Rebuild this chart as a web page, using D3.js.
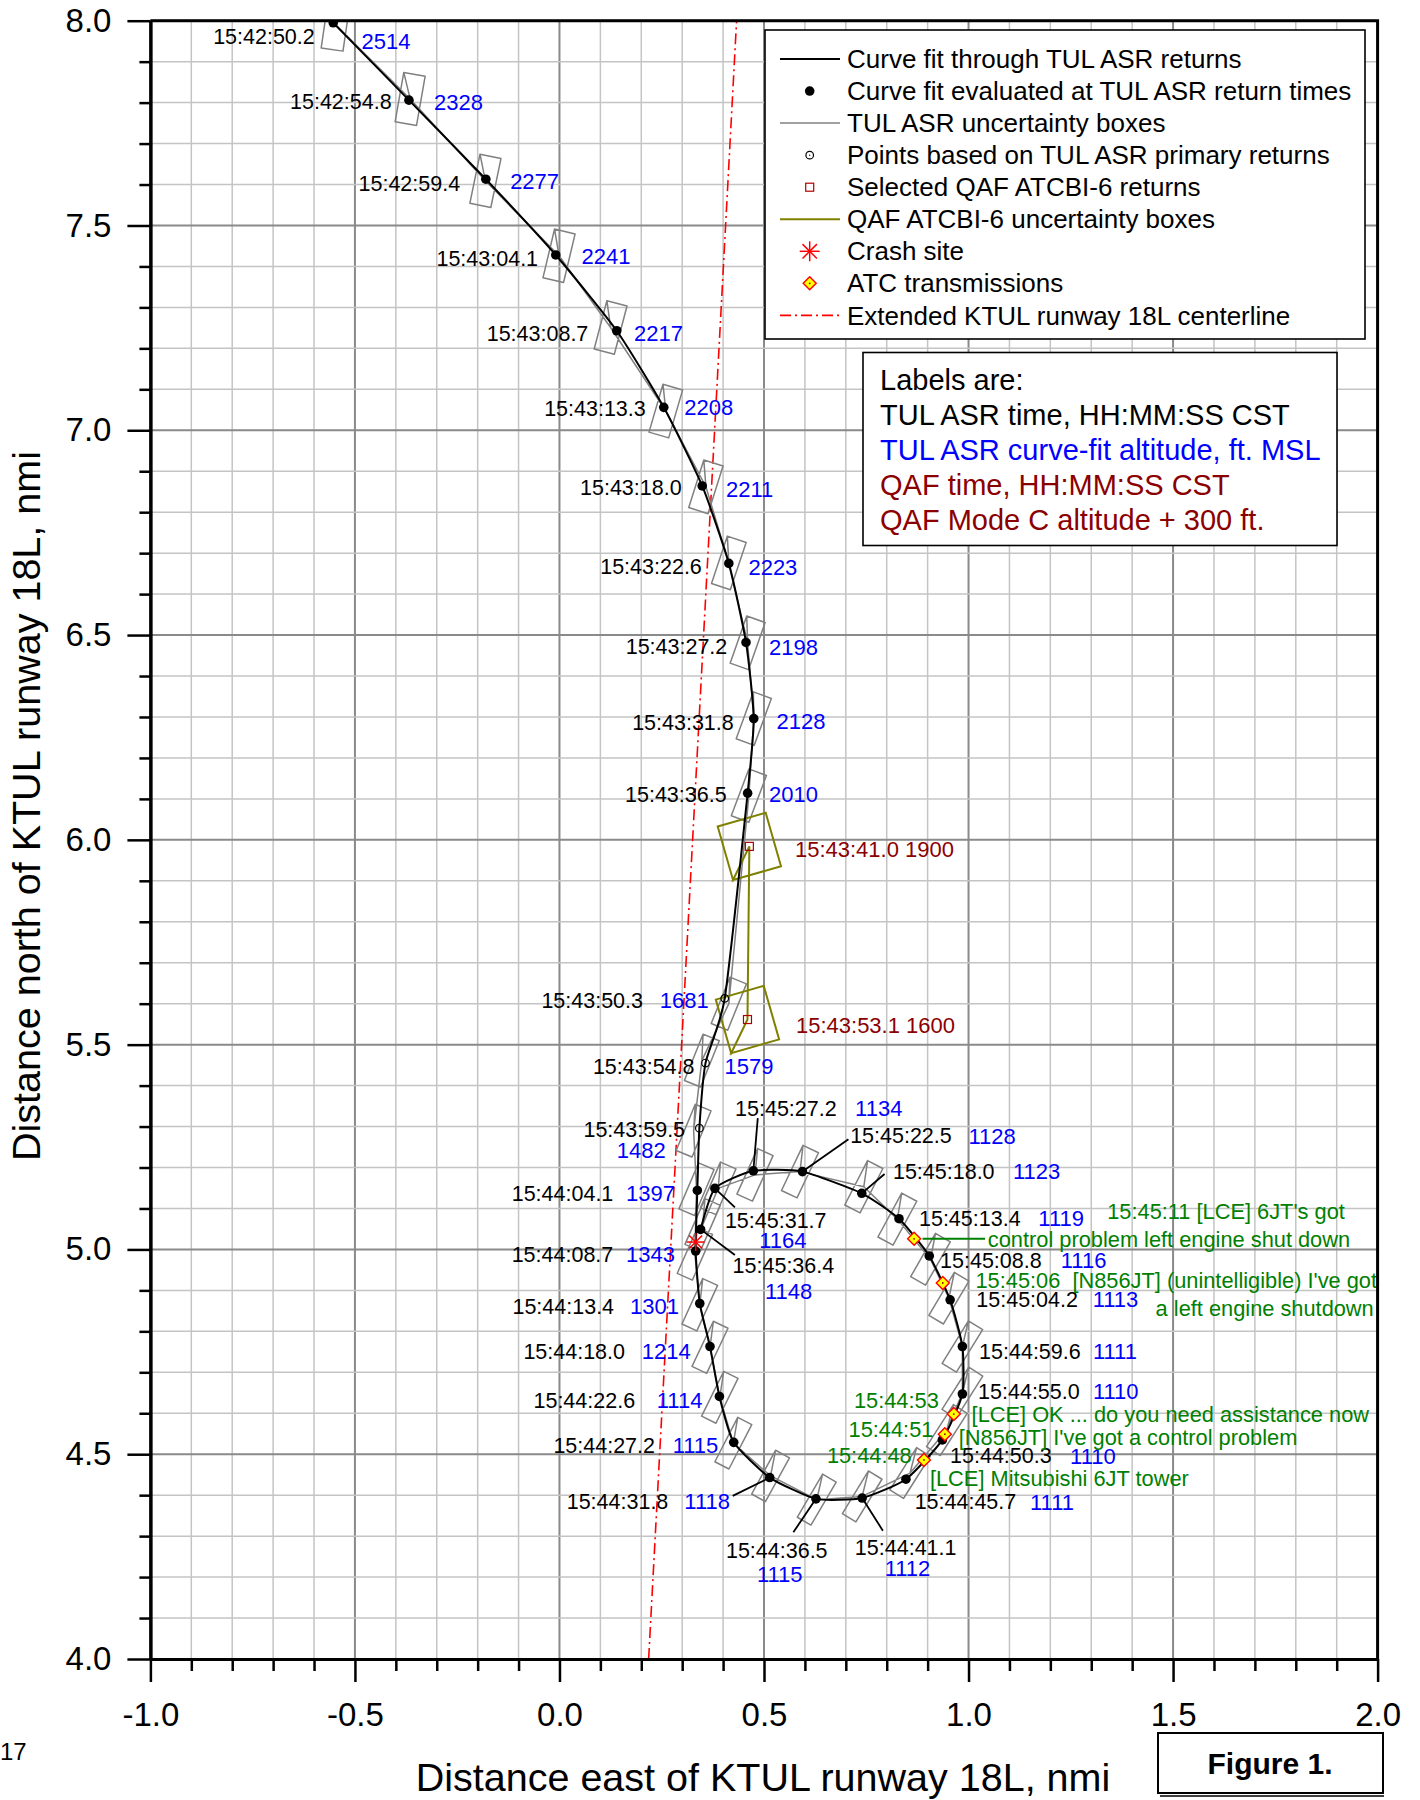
<!DOCTYPE html>
<html>
<head>
<meta charset="utf-8">
<script src="https://cdn.jsdelivr.net/npm/d3@7"></script>
<style>
  html, body { margin: 0; padding: 0; background: #fff; }
  svg { display: block; font-family: "Liberation Sans", Arial, Helvetica, sans-serif; }
  .pre { white-space: pre; }
</style>
</head>
<body>
<svg id="chart" width="1420" height="1800"></svg>
<script>
// ---------------- data ----------------
// TUL ASR curve fit, evaluated at ASR return times
const asrTime = ["15:42:50.2","15:42:54.8","15:42:59.4","15:43:04.1","15:43:08.7","15:43:13.3","15:43:18.0",
  "15:43:22.6","15:43:27.2","15:43:31.8","15:43:36.5","15:43:50.3","15:43:54.8","15:43:59.5",
  "15:44:04.1","15:44:08.7","15:44:13.4","15:44:18.0","15:44:22.6","15:44:27.2","15:44:31.8",
  "15:44:36.5","15:44:41.1","15:44:45.7","15:44:50.3","15:44:55.0","15:44:59.6","15:45:04.2",
  "15:45:08.8","15:45:13.4","15:45:18.0","15:45:22.5","15:45:27.2","15:45:31.7","15:45:36.4"];
const asrEast = [-0.553,-0.368,-0.180,-0.009,0.140,0.255,0.349,
  0.414,0.456,0.475,0.460,0.404,0.357,0.342,
  0.337,0.333,0.343,0.368,0.391,0.426,0.514,
  0.627,0.740,0.847,0.936,0.985,0.985,0.955,
  0.904,0.830,0.739,0.594,0.474,0.380,0.345];
const asrNorth = [7.995,7.806,7.613,7.428,7.243,7.056,6.864,
  6.675,6.482,6.296,6.114,5.613,5.455,5.296,
  5.144,4.996,4.868,4.763,4.641,4.529,4.443,
  4.391,4.393,4.439,4.535,4.647,4.763,4.877,
  4.984,5.075,5.137,5.190,5.192,5.149,5.049];
const asrAlt = [2514,2328,2277,2241,2217,2208,2211,
  2223,2198,2128,2010,1681,1579,1482,
  1397,1343,1301,1214,1114,1115,1118,
  1115,1112,1111,1110,1110,1111,1113,
  1116,1119,1123,1128,1134,1164,1148];
// points 11..13 come from primary-only returns
const asrPrimary = asrTime.map((t, i) => i >= 11 && i <= 13);

// raw TUL ASR return positions (centres of the uncertainty boxes)
const retEast = [-0.547,-0.365,-0.181,-0.001,0.125,0.260,0.358,
  0.414,0.460,0.475,0.463,0.414,0.348,0.328,
  0.335,0.331,0.343,0.368,0.392,0.425,0.516,
  0.629,0.740,0.857,0.947,0.985,0.985,0.952,
  0.907,0.826,0.744,0.588,0.478,0.388,0.350];
const retNorth = [7.990,7.809,7.609,7.426,7.251,7.047,6.862,
  6.676,6.481,6.296,6.108,5.600,5.461,5.290,
  5.147,4.989,4.865,4.761,4.639,4.527,4.447,
  4.389,4.397,4.454,4.559,4.650,4.763,4.881,
  4.976,5.074,5.153,5.190,5.182,5.149,5.060];

// QAF ATCBI-6 selected returns
const qafTime = ["15:43:41.0","15:43:53.1"];
const qafEast = [0.4642, 0.4596];
const qafNorth = [5.9841, 5.5613];
const qafAlt = [1900, 1600];   // Mode C + 300 ft

// ATC transmissions
const atcTime = ["15:44:48","15:44:51","15:44:53","15:45:06","15:45:11"];
const atcEast = [0.891, 0.942, 0.964, 0.937, 0.867];
const atcNorth = [4.486, 4.549, 4.598, 4.918, 5.026];
const atcMessage = [
  ["[LCE] Mitsubishi 6JT tower"],
  ["[N856JT] I've got a control problem"],
  ["[LCE] OK ... do you need assistance now"],
  ["  [N856JT] (unintelligible) I've got", "a left engine shutdown"],
  [" [LCE] 6JT's got", "control problem left engine shut down"]
];

// crash site
const crashEast = [0.333];
const crashNorth = [5.018];

// extended runway 18L centreline
const centerlineEast = [0.218, 0.433];
const centerlineNorth = [4.0, 8.0];

// axis ticks
const xTicks = [-1.0, -0.5, 0.0, 0.5, 1.0, 1.5, 2.0];
const yTicks = [4.0, 4.5, 5.0, 5.5, 6.0, 6.5, 7.0, 7.5, 8.0];

// legend and key text
const legendLabels = ["Curve fit through TUL ASR returns", "Curve fit evaluated at TUL ASR return times",
  "TUL ASR uncertainty boxes", "Points based on TUL ASR primary returns", "Selected QAF ATCBI-6 returns",
  "QAF ATCBI-6 uncertainty boxes", "Crash site", "ATC transmissions", "Extended KTUL runway 18L centerline"];
const keyLines = ["Labels are:", "TUL ASR time, HH:MM:SS CST", "TUL ASR curve-fit altitude, ft. MSL",
  "QAF time, HH:MM:SS CST", "QAF Mode C altitude + 300 ft."];

// ---------------- layout ----------------
// label offsets (px) from each ASR point: time label, altitude label, optional leader end
const asrLabelLayout = [
  {t:[-18.5,13.3,"end"], a:[28.2,19,"start"]},
  {t:[-17.3,1.7,"end"], a:[25,1.7,"start"]},
  {t:[-25.7,4,"end"], a:[24.3,2.4,"start"]},
  {t:[-17.7,3.3,"end"], a:[25.7,1.7,"start"]},
  {t:[-28.4,2.6,"end"], a:[17.3,2.3,"start"]},
  {t:[-18,1,"end"], a:[20.4,0,"start"]},
  {t:[-20.6,1.3,"end"], a:[23.7,3.3,"start"]},
  {t:[-27,3.4,"end"], a:[19.6,4,"start"]},
  {t:[-18.7,4.4,"end"], a:[23,4.4,"start"]},
  {t:[-20,3.6,"end"], a:[22.7,3,"start"]},
  {t:[-21,1,"end"], a:[21.3,1,"start"]},
  {t:[-81.7,1.7,"end"], a:[-65,1.7,"start"]},
  {t:[-11,3.3,"end"], a:[19,3.3,"start"]},
  {t:[-14.3,1,"end"], a:[-33.6,22.4,"end"]},
  {t:[-84,2.6,"end"], a:[-22.3,2.6,"end"]},
  {t:[-82.4,3,"end"], a:[-20.7,3,"end"]},
  {t:[-85.7,3,"end"], a:[-20.7,3,"end"]},
  {t:[-85,5,"end"], a:[-19.3,5,"end"]},
  {t:[-84.3,4.3,"end"], a:[-17,4.3,"end"]},
  {t:[-78.7,2.7,"end"], a:[-15.4,2.7,"end"]},
  {t:[-101.4,24,"end"], a:[-39.7,24,"end"], lead:[-37,18.3]},
  {t:[-39.2,51.7,"middle"], a:[-36.2,75.7,"middle"], lead:[-22.6,33.4]},
  {t:[43.5,49.3,"middle"], a:[45.3,70.3,"middle"], lead:[20.7,32.7]},
  {t:[8.7,22.7,"start"], a:[124,22.7,"start"]},
  {t:[7.7,16,"start"], a:[127.7,16,"start"]},
  {t:[15.7,-2.3,"start"], a:[130.5,-2.3,"start"]},
  {t:[16.7,5,"start"], a:[130.5,5,"start"]},
  {t:[26.2,-0.7,"start"], a:[142.5,-0.7,"start"]},
  {t:[10.8,4,"start"], a:[131.5,4,"start"]},
  {t:[20,-0.7,"start"], a:[139.3,-0.7,"start"]},
  {t:[31.2,-21.6,"start"], a:[151.2,-21.6,"start"], lead:[22.8,-19.3]},
  {t:[47.7,-35.7,"start"], a:[166,-35.7,"start"], lead:[46,-32.4]},
  {t:[-18.3,-62.7,"start"], a:[101.7,-62.7,"start"], lead:[4.4,-52.7]},
  {t:[10,31.7,"start"], a:[44.3,52.4,"start"], lead:[20,19]},
  {t:[32,35.7,"start"], a:[64.3,61.7,"start"], lead:[34.3,25.7]}
];
const qafLabelLayout = [[45.6, 2.6], [48.5, 5.4]];
// ATC label layout: separate time label (or null = time prefixed to first line), message lines
const atcLabelLayout = [
  {time:[-12.2,-5,"end"], lines:[[6,18.3,"start"]]},
  {time:[-11.4,-4.3,"end"], lines:[[14,3,"start"]]},
  {time:[-15,-13.6,"end"], lines:[[17.8,0.7,"start"]]},
  {time:null, lines:[[32.7,-3,"start"],[431,25.3,"end"]]},
  {time:null, lines:[[193.1,-27,"start"],[73.7,0.6,"start"]], lead:[8.4,70.9]}
];

// colours
const C = { blue:"#0000ff", darkred:"#8b0000", green:"#008000", olive:"#808000", gray:"#808080", red:"#ff0000" };

// ---------------- drawing ----------------
const svg = d3.select("#chart");
const x = d3.scaleLinear().domain([-1, 2]).range([150.4, 1377.6]);
const y = d3.scaleLinear().domain([4, 8]).range([1659, 20.7]);

svg.append("defs").append("clipPath").attr("id", "plotClip").append("rect")
  .attr("x", x(-1)).attr("y", y(8)).attr("width", x(2) - x(-1)).attr("height", y(4) - y(8));

// grid
const grid = svg.append("g");
const xGrid = d3.range(0, 31).map(i => ({v: -1 + i / 10, major: i % 5 === 0}));
const yGrid = d3.range(0, 41).map(i => ({v: 4 + i / 10, major: i % 5 === 0}));
const gridOrder = (a) => a.filter(d => !d.major).concat(a.filter(d => d.major));
grid.selectAll("line.gx").data(gridOrder(xGrid)).join("line").attr("class", "gx")
  .attr("x1", d => x(d.v)).attr("x2", d => x(d.v)).attr("y1", y(4)).attr("y2", y(8))
  .attr("stroke", d => d.major ? "#8a8a8a" : "#c4c4c4").attr("stroke-width", d => d.major ? 2 : 1.5);
grid.selectAll("line.gy").data(gridOrder(yGrid)).join("line").attr("class", "gy")
  .attr("y1", d => y(d.v)).attr("y2", d => y(d.v)).attr("x1", x(-1)).attr("x2", x(2))
  .attr("stroke", d => d.major ? "#8a8a8a" : "#c4c4c4").attr("stroke-width", d => d.major ? 2 : 1.5);

const plot = svg.append("g").attr("clip-path", "url(#plotClip)");
const line = d3.line().x(d => x(d[0])).y(d => y(d[1]));

// runway centreline
plot.append("path")
  .attr("d", line(centerlineEast.map((e, i) => [e, centerlineNorth[i]])))
  .attr("fill", "none").attr("stroke", C.red).attr("stroke-width", 1.6)
  .attr("stroke-dasharray", "11,4,2,4");

// TUL ASR uncertainty boxes, oriented along the radial from the ASR antenna
const asrSite = [-1.65, 0.5];
function asrBox(e, n) {
  const dx = e - asrSite[0], dy = n - asrSite[1];
  const r = Math.hypot(dx, dy);
  const ux = dx / r, uy = dy / r, vx = -uy, vy = ux;
  const L = 0.061, Wd = 0.008 + 0.0025 * r;
  const c = (a, b) => [e + a * L * ux + b * Wd * vx, n + a * L * uy + b * Wd * vy];
  return [[e, n], c(1, 1), c(1, -1), c(-1, -1), c(-1, 1), c(1, 1), [e, n]];
}
let grayPts = [];
retEast.forEach((e, i) => { grayPts = grayPts.concat(asrBox(e, retNorth[i])); });
plot.append("path").attr("d", line(grayPts)).attr("fill", "none")
  .attr("stroke", C.gray).attr("stroke-width", 1.5).attr("stroke-linejoin", "round");

// QAF uncertainty boxes
function qafBox(e, n) {
  const ang = 16 * Math.PI / 180, hw = 0.061, hh = 0.068;
  const ax = Math.cos(ang), ay = Math.sin(ang), bx = -ay, by = ax;
  const c = (a, b) => [e + a * hw * ax + b * hh * bx, n + a * hw * ay + b * hh * by];
  return [c(-1, -1), c(-1, 1), c(1, 1), c(1, -1), c(-1, -1)];
}
let olivePts = [];
qafEast.forEach((e, i) => {
  const n = qafNorth[i];
  olivePts = olivePts.concat([[e, n]], qafBox(e, n), [[e, n]]);
});
plot.append("path").attr("d", line(olivePts)).attr("fill", "none")
  .attr("stroke", C.olive).attr("stroke-width", 2).attr("stroke-linejoin", "miter");

// curve fit through the ASR returns
const track = asrEast.map((e, i) => [e, asrNorth[i]]);
plot.append("path")
  .attr("d", d3.line().x(d => x(d[0])).y(d => y(d[1])).curve(d3.curveCardinal.tension(0.45))(track))
  .attr("fill", "none").attr("stroke", "#000").attr("stroke-width", 2);

// leader lines for crowded labels
const leaders = svg.append("g");
asrLabelLayout.forEach((L, i) => {
  if (!L.lead) return;
  const px = x(asrEast[i]), py = y(asrNorth[i]);
  leaders.append("line").attr("x1", px).attr("y1", py)
    .attr("x2", px + L.lead[0]).attr("y2", py + L.lead[1])
    .attr("stroke", "#000").attr("stroke-width", 1.8);
});
atcLabelLayout.forEach((L, i) => {
  if (!L.lead) return;
  const px = x(atcEast[i]), py = y(atcNorth[i]);
  leaders.append("line").attr("x1", px + L.lead[0]).attr("x2", px + L.lead[1])
    .attr("y1", py).attr("y2", py).attr("stroke", C.green).attr("stroke-width", 2);
});

// markers
function dot(g, px, py) { g.append("circle").attr("cx", px).attr("cy", py).attr("r", 4.8).attr("fill", "#000"); }
function ring(g, px, py) {
  g.append("circle").attr("cx", px).attr("cy", py).attr("r", 3.8).attr("fill", "none").attr("stroke", "#000").attr("stroke-width", 1.2);
  g.append("circle").attr("cx", px).attr("cy", py).attr("r", 0.7).attr("fill", "#000");
}
function square(g, px, py) {
  g.append("rect").attr("x", px - 4).attr("y", py - 4).attr("width", 8).attr("height", 8)
    .attr("fill", "none").attr("stroke", "#b00000").attr("stroke-width", 1.2);
}
function asterisk(g, px, py, s) {
  const d = s * 0.72;
  [[0, -s, 0, s], [-s, 0, s, 0], [-d, -d, d, d], [-d, d, d, -d]].forEach(l =>
    g.append("line").attr("x1", px + l[0]).attr("y1", py + l[1]).attr("x2", px + l[2]).attr("y2", py + l[3])
      .attr("stroke", C.red).attr("stroke-width", 1.5));
}
function diamond(g, px, py) {
  const s = 6.5;
  g.append("path").attr("d", `M${px},${py - s}L${px + s},${py}L${px},${py + s}L${px - s},${py}Z`)
    .attr("fill", "#ffff00").attr("stroke", C.red).attr("stroke-width", 1.4);
  g.append("circle").attr("cx", px).attr("cy", py).attr("r", 0.9).attr("fill", "#a00000");
}

const marks = svg.append("g").attr("clip-path", "url(#plotClip)");
asrEast.forEach((e, i) => {
  if (asrPrimary[i]) ring(marks, x(e), y(asrNorth[i]));
  else dot(marks, x(e), y(asrNorth[i]));
});
qafEast.forEach((e, i) => square(marks, x(e), y(qafNorth[i])));
asterisk(marks, x(crashEast[0]), y(crashNorth[0]), 9);
atcEast.forEach((e, i) => diamond(marks, x(e), y(atcNorth[i])));

// point labels
const labels = svg.append("g");
asrTime.forEach((t, i) => {
  const L = asrLabelLayout[i], px = x(asrEast[i]), py = y(asrNorth[i]);
  labels.append("text").attr("x", px + L.t[0]).attr("y", py + L.t[1]).attr("dy", "0.35em")
    .attr("text-anchor", L.t[2]).attr("font-size", 21.5).attr("fill", "#000").text(t);
  labels.append("text").attr("x", px + L.a[0]).attr("y", py + L.a[1]).attr("dy", "0.35em")
    .attr("text-anchor", L.a[2]).attr("font-size", 22).attr("fill", C.blue).text(asrAlt[i]);
});
qafTime.forEach((t, i) => {
  const px = x(qafEast[i]), py = y(qafNorth[i]);
  labels.append("text").attr("x", px + qafLabelLayout[i][0]).attr("y", py + qafLabelLayout[i][1])
    .attr("dy", "0.35em").attr("font-size", 22).attr("fill", C.darkred).text(t + " " + qafAlt[i]);
});
atcTime.forEach((t, i) => {
  const L = atcLabelLayout[i], px = x(atcEast[i]), py = y(atcNorth[i]);
  if (L.time) {
    labels.append("text").attr("x", px + L.time[0]).attr("y", py + L.time[1]).attr("dy", "0.35em")
      .attr("text-anchor", L.time[2]).attr("font-size", 21.8).attr("fill", C.green).text(t);
  }
  atcMessage[i].forEach((m, k) => {
    const p = L.lines[k];
    labels.append("text").attr("class", "pre").attr("x", px + p[0]).attr("y", py + p[1]).attr("dy", "0.35em")
      .attr("text-anchor", p[2]).attr("font-size", 21.8).attr("fill", C.green)
      .text((!L.time && k === 0 ? t : "") + m);
  });
});

// axes
const xMinorTicks = xGrid.filter(d => !d.major).map(d => d.v);
const yMinorTicks = yGrid.filter(d => !d.major).map(d => d.v);

const gx = svg.append("g").attr("transform", `translate(0,${y(4)})`)
  .call(d3.axisBottom(x).tickValues(xTicks).tickFormat(d3.format(".1f")).tickSize(23).tickSizeOuter(0).tickPadding(21));
const gxm = svg.append("g").attr("transform", `translate(0,${y(4)})`)
  .call(d3.axisBottom(x).tickValues(xMinorTicks).tickFormat("").tickSize(12).tickSizeOuter(0));
const gy = svg.append("g").attr("transform", `translate(${x(-1)},0)`)
  .call(d3.axisLeft(y).tickValues(yTicks).tickFormat(d3.format(".1f")).tickSize(23).tickSizeOuter(0).tickPadding(16));
const gym = svg.append("g").attr("transform", `translate(${x(-1)},0)`)
  .call(d3.axisLeft(y).tickValues(yMinorTicks).tickFormat("").tickSize(11).tickSizeOuter(0));
[gx, gxm, gy, gym].forEach(g => {
  g.selectAll(".domain").attr("stroke", "#000").attr("stroke-width", 3);
  g.selectAll(".tick line").attr("stroke", "#000").attr("stroke-width", 2.5);
  g.selectAll(".tick text").attr("font-family", '"Liberation Sans", Arial, sans-serif')
    .attr("font-size", 33).attr("fill", "#000");
});
gx.selectAll(".tick text").text(d => d3.format(".1f")(d).replace("−", "-"));
gy.selectAll(".tick text").text(d => d3.format(".1f")(d).replace("−", "-"));

// frame (top and right)
svg.append("path").attr("d", `M${x(-1)},${y(8)}H${x(2)}V${y(4)}`)
  .attr("fill", "none").attr("stroke", "#000").attr("stroke-width", 3);

// axis titles
svg.append("text").attr("x", 763).attr("y", 1791).attr("text-anchor", "middle")
  .attr("font-size", 39.5).text("Distance east of KTUL runway 18L, nmi");
svg.append("text").attr("transform", "translate(40,806) rotate(-90)").attr("text-anchor", "middle")
  .attr("font-size", 39.5).text("Distance north of KTUL runway 18L, nmi");

// legend
const lg = svg.append("g");
lg.append("rect").attr("x", 765).attr("y", 30).attr("width", 600).attr("height", 309)
  .attr("fill", "#fff").attr("stroke", "#000").attr("stroke-width", 1.6);
legendLabels.forEach((txt, i) => {
  const cy = 59 + i * 32.05, mx = 809.7;
  if (i === 0) lg.append("line").attr("x1", 780).attr("x2", 840).attr("y1", cy).attr("y2", cy).attr("stroke", "#000").attr("stroke-width", 2);
  if (i === 1) dot(lg, mx, cy);
  if (i === 2) lg.append("line").attr("x1", 780).attr("x2", 840).attr("y1", cy).attr("y2", cy).attr("stroke", C.gray).attr("stroke-width", 1.5);
  if (i === 3) ring(lg, mx, cy);
  if (i === 4) square(lg, mx, cy);
  if (i === 5) lg.append("line").attr("x1", 780).attr("x2", 840).attr("y1", cy).attr("y2", cy).attr("stroke", C.olive).attr("stroke-width", 2);
  if (i === 6) asterisk(lg, mx, cy, 10);
  if (i === 7) diamond(lg, mx, cy);
  if (i === 8) lg.append("line").attr("x1", 780).attr("x2", 840).attr("y1", cy).attr("y2", cy)
    .attr("stroke", C.red).attr("stroke-width", 1.6).attr("stroke-dasharray", "11,4,2,4");
  lg.append("text").attr("x", 847).attr("y", cy).attr("dy", "0.35em").attr("font-size", 26).text(txt);
});

// key to the label colours
const kg = svg.append("g");
kg.append("rect").attr("x", 863).attr("y", 352.5).attr("width", 474).attr("height", 193)
  .attr("fill", "#fff").attr("stroke", "#000").attr("stroke-width", 1.6);
const keyColors = ["#000", "#000", C.blue, C.darkred, C.darkred];
keyLines.forEach((txt, i) => {
  kg.append("text").attr("x", 880).attr("y", [380, 414.5, 450, 485, 520][i]).attr("dy", "0.35em")
    .attr("font-size", 29).attr("fill", keyColors[i]).text(txt);
});

// figure tag and page number
svg.append("rect").attr("x", 1158).attr("y", 1733).attr("width", 225).attr("height", 60)
  .attr("fill", "#fff").attr("stroke", "#000").attr("stroke-width", 2);
svg.append("line").attr("x1", 1160).attr("x2", 1384).attr("y1", 1796).attr("y2", 1796)
  .attr("stroke", "#000").attr("stroke-width", 1.5);
svg.append("text").attr("x", 1270).attr("y", 1763).attr("dy", "0.35em").attr("text-anchor", "middle")
  .attr("font-size", 30).attr("font-weight", "bold").text("Figure 1.");
svg.append("text").attr("x", 0).attr("y", 1760).attr("font-size", 24).text("17");
</script>
</body>
</html>
